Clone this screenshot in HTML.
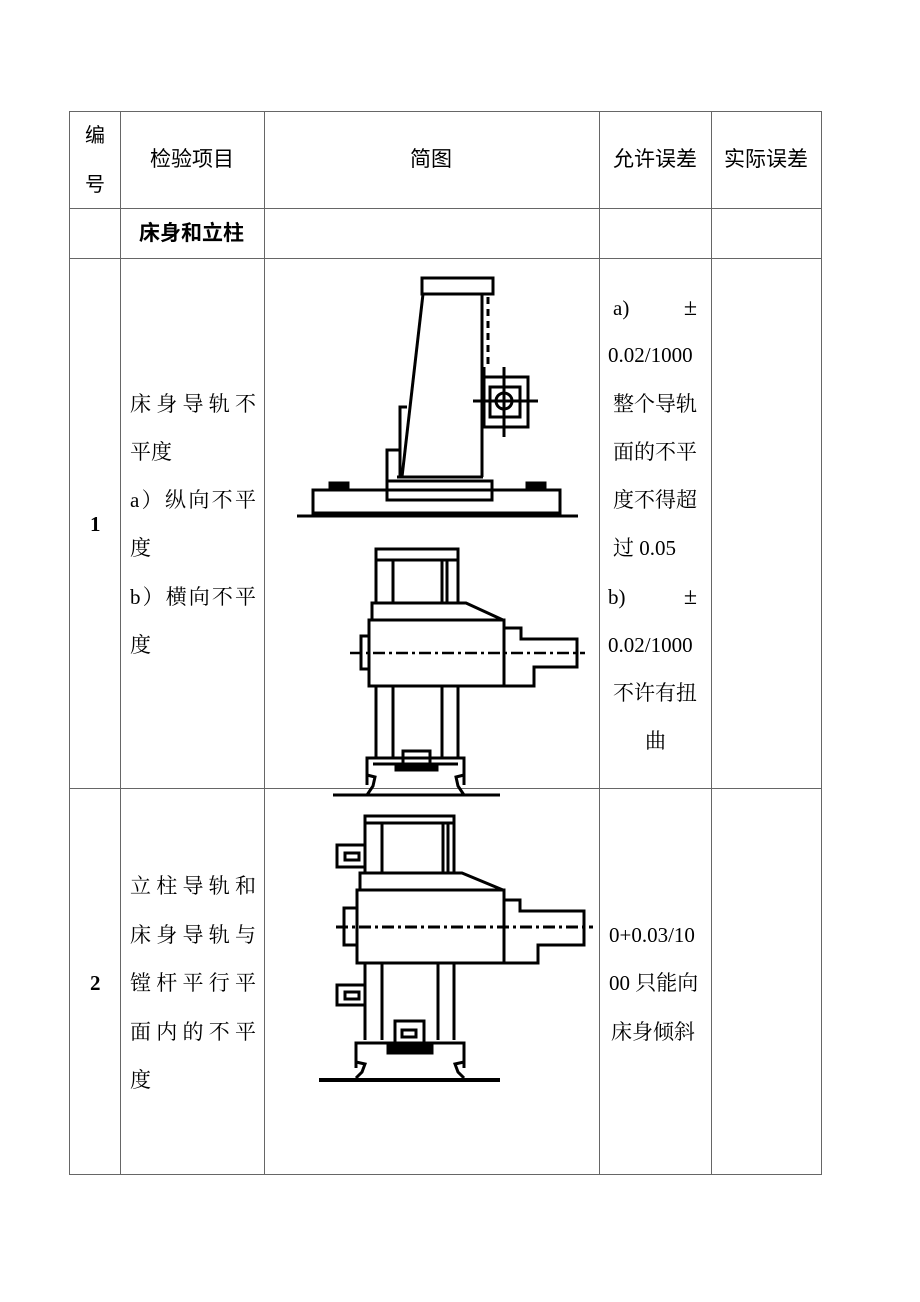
<!DOCTYPE html>
<html><head><meta charset="utf-8"><style>
body{margin:0;background:#fff;}
#p{position:relative;width:920px;height:1302px;overflow:hidden;font-family:"Liberation Serif","Noto Serif CJK SC","Noto Sans CJK SC",serif;font-size:21px;color:#000;}
.t{position:absolute;line-height:24px;white-space:nowrap;}
.j{position:absolute;line-height:24px;text-align:justify;text-align-last:justify;white-space:nowrap;}
.s{font-family:"Liberation Sans","Noto Sans CJK SC",sans-serif;font-size:20px;}
</style></head><body><div id="p">
<svg width="920" height="1302" style="position:absolute;left:0;top:0">
<g stroke="#666" stroke-width="1" fill="none">
<rect x="69.5" y="111.5" width="752" height="1063"/>
<line x1="120.5" y1="111" x2="120.5" y2="1175"/>
<line x1="264.5" y1="111" x2="264.5" y2="1175"/>
<line x1="599.5" y1="111" x2="599.5" y2="1175"/>
<line x1="711.5" y1="111" x2="711.5" y2="1175"/>
<line x1="69" y1="208.5" x2="822" y2="208.5"/>
<line x1="69" y1="258.5" x2="822" y2="258.5"/>
<line x1="69" y1="788.5" x2="822" y2="788.5"/>
</g>
<g stroke="#000" stroke-width="3" fill="none">
<rect x="422" y="278" width="71" height="16"/>
<line x1="423" y1="294" x2="402" y2="477"/>
<line x1="482" y1="294" x2="482" y2="477"/>
<line x1="483" y1="367" x2="483" y2="427" stroke-width="5"/>
<line x1="488" y1="297" x2="488" y2="367" stroke-dasharray="7,5"/>
<rect x="483" y="377" width="45" height="50"/>
<rect x="490" y="387" width="30" height="30"/>
<circle cx="504" cy="401" r="8"/>
<line x1="473" y1="401" x2="538" y2="401"/>
<line x1="504" y1="367" x2="504" y2="437"/>
<polyline points="404,477 400,477 400,407 407,407"/>
<polyline points="400,450 387,450 387,490"/>
<line x1="397" y1="477" x2="483" y2="477"/>
<rect x="387" y="481" width="105" height="19"/>
<rect x="313" y="490" width="247" height="23"/>
<rect x="330" y="483" width="18" height="6" fill="#000"/>
<rect x="527" y="483" width="18" height="6" fill="#000"/>
<line x1="297" y1="516" x2="578" y2="516"/>
<rect x="376" y="549" width="82" height="11"/>
<line x1="376" y1="560" x2="376" y2="603"/>
<line x1="393" y1="560" x2="393" y2="603"/>
<line x1="442" y1="560" x2="442" y2="603"/>
<line x1="447" y1="560" x2="447" y2="603"/>
<line x1="458" y1="560" x2="458" y2="603"/>
<polyline points="372,620 372,603 466,603 503,620"/>
<rect x="369" y="620" width="135" height="66"/>
<polyline points="504,628 521,628 521,639 577,639 577,667 534,667 534,686 504,686"/>
<rect x="361" y="636" width="8" height="33"/>
<line x1="350" y1="653" x2="585" y2="653" stroke-width="2.5" stroke-dasharray="12,4,3,4"/>
<line x1="376" y1="686" x2="376" y2="757"/>
<line x1="393" y1="686" x2="393" y2="757"/>
<line x1="442" y1="686" x2="442" y2="757"/>
<line x1="458" y1="686" x2="458" y2="757"/>
<rect x="403" y="751" width="27" height="13"/>
<polyline points="367,785 367,758 464,758 464,785"/>
<line x1="373" y1="764" x2="458" y2="764"/>
<rect x="396" y="764" width="41" height="6" fill="#000"/>
<polyline points="367,775 375,777 373,786 367,795"/>
<polyline points="464,775 456,777 458,786 464,795"/>
<line x1="333" y1="795" x2="500" y2="795"/>
<rect x="365" y="816" width="89" height="7"/>
<line x1="365" y1="823" x2="365" y2="873"/>
<line x1="382" y1="823" x2="382" y2="873"/>
<line x1="443" y1="823" x2="443" y2="873"/>
<line x1="448" y1="823" x2="448" y2="873"/>
<line x1="454" y1="823" x2="454" y2="873"/>
<rect x="337" y="845" width="28" height="22"/>
<rect x="345" y="853" width="14" height="7"/>
<rect x="337" y="985" width="28" height="20"/>
<rect x="345" y="992" width="14" height="7"/>
<polyline points="360,890 360,873 462,873 503,890"/>
<rect x="357" y="890" width="147" height="73"/>
<polyline points="504,900 520,900 520,911 584,911 584,945 538,945 538,963 504,963"/>
<rect x="344" y="908" width="13" height="37"/>
<line x1="336" y1="927" x2="593" y2="927" stroke-width="3" stroke-dasharray="12,4,3,4"/>
<line x1="365" y1="963" x2="365" y2="1040"/>
<line x1="382" y1="963" x2="382" y2="1040"/>
<line x1="438" y1="963" x2="438" y2="1040"/>
<line x1="454" y1="963" x2="454" y2="1040"/>
<rect x="395" y="1021" width="29" height="22"/>
<rect x="402" y="1030" width="14" height="7"/>
<polyline points="356,1068 356,1043 464,1043 464,1068"/>
<rect x="388" y="1046" width="44" height="7" fill="#000"/>
<polyline points="356,1062 365,1064 362,1072 356,1078"/>
<polyline points="464,1062 455,1064 458,1072 464,1078"/>
<line x1="319" y1="1080" x2="500" y2="1080" stroke-width="4"/>
</g>
</svg>
<div class="t s" style="left:85px;top:124px">编</div>
<div class="t s" style="left:85px;top:173px">号</div>
<div class="t s" style="left:150px;top:148px;font-size:21px">检验项目</div>
<div class="t s" style="left:410px;top:148px;font-size:21px">简图</div>
<div class="t s" style="left:613px;top:148px;font-size:21px">允许误差</div>
<div class="t s" style="left:724px;top:148px;font-size:21px">实际误差</div>
<div class="t s" style="left:139px;top:222px;font-weight:bold;font-size:21px">床身和立柱</div>
<div class="t" style="left:90px;top:512px;font-weight:bold">1</div>
<div class="j" style="left:130px;top:392px;width:126px">床身导轨不</div>
<div class="t" style="left:130px;top:440px">平度</div>
<div class="j" style="left:130px;top:488px;width:126px">a）纵向不平</div>
<div class="t" style="left:130px;top:536px">度</div>
<div class="j" style="left:130px;top:585px;width:126px">b）横向不平</div>
<div class="t" style="left:130px;top:633px">度</div>
<div class="j" style="left:613px;top:296px;width:84px">a) <span style="font-size:24px">±</span></div>
<div class="t" style="left:608px;top:343px">0.02/1000</div>
<div class="t" style="left:613px;top:392px">整个导轨</div>
<div class="t" style="left:613px;top:440px">面的不平</div>
<div class="t" style="left:613px;top:488px">度不得超</div>
<div class="t" style="left:613px;top:536px">过 0.05</div>
<div class="j" style="left:608px;top:585px;width:89px">b) <span style="font-size:24px">±</span></div>
<div class="t" style="left:608px;top:633px">0.02/1000</div>
<div class="t" style="left:613px;top:681px">不许有扭</div>
<div class="t" style="left:645px;top:729px">曲</div>
<div class="t" style="left:90px;top:971px;font-weight:bold">2</div>
<div class="j" style="left:130px;top:874px;width:126px">立柱导轨和</div>
<div class="j" style="left:130px;top:923px;width:126px">床身导轨与</div>
<div class="j" style="left:130px;top:971px;width:126px">镗杆平行平</div>
<div class="j" style="left:130px;top:1020px;width:126px">面内的不平</div>
<div class="t" style="left:130px;top:1068px">度</div>
<div class="t" style="left:609px;top:923px">0+0.03/10</div>
<div class="t" style="left:609px;top:971px">00 只能向</div>
<div class="t" style="left:611px;top:1020px">床身倾斜</div>
</div></body></html>
